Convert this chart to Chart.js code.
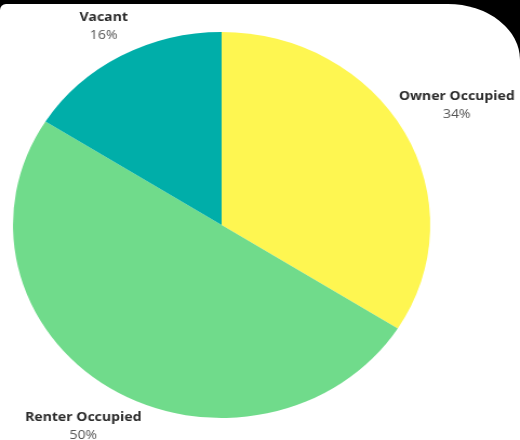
<!DOCTYPE html>
<html>
<head>
<meta charset="utf-8">
<script src="https://cdn.jsdelivr.net/npm/chart.js@4/dist/chart.umd.min.js"></script>
<style>
  html, body { margin: 0; padding: 0; background: #000; }
  #panel {
    position: absolute; left: 0; top: 4px; width: 520px; height: 436px;
    background: #fff;
    border-top-left-radius: 6px;
    border-top-right-radius: 72px 56px;
    overflow: hidden;
  }
  #wrap {
    position: absolute; left: 0; top: -4px; width: 481px; height: 440px;
    transform: scaleX(1.081); transform-origin: 0 0;
  }
</style>
</head>
<body>
<div id="panel">
  <div id="wrap"><canvas id="pie" width="481" height="440"></canvas></div>
</div>
<script>
const categories = ['Owner Occupied', 'Renter Occupied', 'Vacant'];
const shares = [34, 50, 16];
const colors = ['#fef651', '#70db8b', '#00aea9'];

// etiquetas fuera del pastel: nombre en negrita y porcentaje debajo
const outsideLabels = {
  id: 'outsideLabels',
  afterDraw(chart) {
    const ctx = chart.ctx;
    const meta = chart.getDatasetMeta(0);
    ctx.save();
    ctx.textAlign = 'center';
    ctx.textBaseline = 'middle';
    meta.data.forEach((arc, i) => {
      const mid = (arc.startAngle + arc.endAngle) / 2;
      ctx.font = 'bold 13px "Open Sans"';
      const hw = ctx.measureText(categories[i]).width / 2;
      const hh = 18;
      const d = arc.outerRadius + 18 + 0.7 * hw * Math.abs(Math.cos(mid)) + 0.5 * hh * Math.abs(Math.sin(mid));
      const x = arc.x + Math.cos(mid) * d;
      const y = arc.y + Math.sin(mid) * d;
      ctx.fillStyle = '#2b2b2b';
      ctx.fillText(categories[i], x, y - 9);
      ctx.font = '13px "Open Sans"';
      ctx.fillStyle = '#555';
      ctx.fillText(shares[i] + '%', x, y + 9);
    });
    ctx.restore();
  }
};

new Chart(document.getElementById('pie'), {
  type: 'pie',
  data: {
    labels: categories,
    datasets: [{
      data: shares,
      backgroundColor: colors,
      borderWidth: 0,
    }],
  },
  options: {
    responsive: false,
    animation: false,
    layout: { padding: { top: 32, bottom: 22, left: 12, right: 83 } },
    plugins: {
      legend: { display: false },
      tooltip: { enabled: false },
    },
  },
  plugins: [outsideLabels],
});
</script>
</body>
</html>
